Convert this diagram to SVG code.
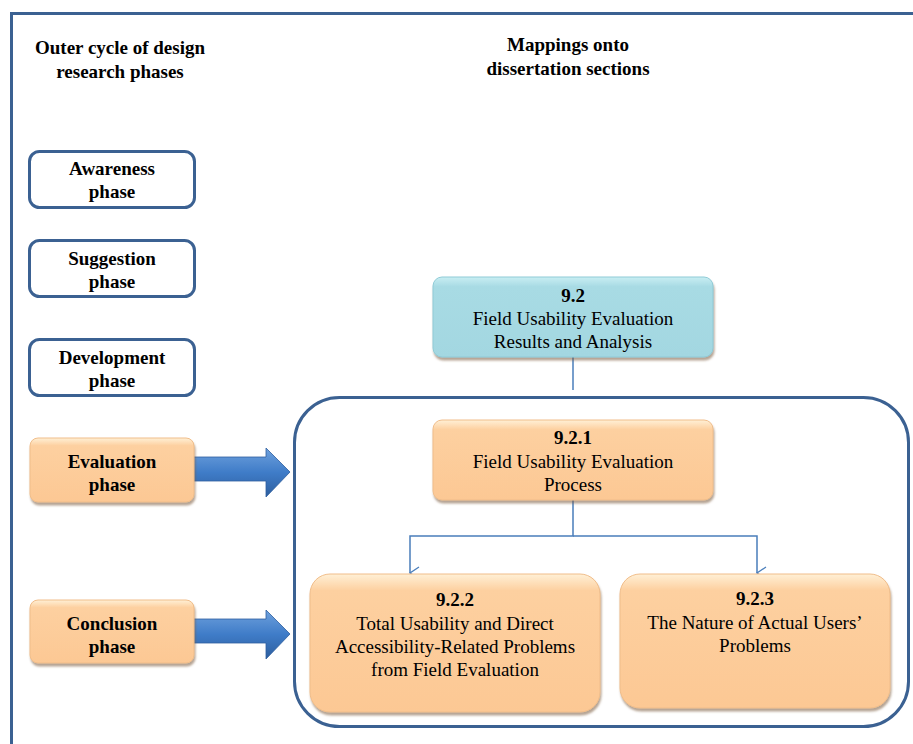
<svg xmlns="http://www.w3.org/2000/svg" width="913" height="744" viewBox="0 0 913 744">
<defs>
<style>
.t{font-family:"Liberation Serif","Times New Roman",serif;font-size:19px;fill:#000;text-anchor:middle}
.b{font-weight:bold}
.phase{fill:#fff;stroke:#3b6192;stroke-width:3}
.org{fill:url(#og);stroke:#f0bd8a;stroke-width:1}
.conn{fill:none;stroke:#4a7ebb;stroke-width:1.5}
</style>
<linearGradient id="og" x1="0" y1="0" x2="0" y2="1">
<stop offset="0" stop-color="#fff0d6"/>
<stop offset="0.12" stop-color="#fdd0a0"/>
<stop offset="1" stop-color="#fcc894"/>
</linearGradient>
<linearGradient id="bg" x1="0" y1="0" x2="0" y2="1">
<stop offset="0" stop-color="#c9eef3"/>
<stop offset="0.12" stop-color="#a8dbe4"/>
<stop offset="1" stop-color="#a3d7e1"/>
</linearGradient>
<linearGradient id="ag" x1="0" y1="0" x2="0" y2="1">
<stop offset="0" stop-color="#6fa1dd"/>
<stop offset="0.5" stop-color="#3f7cc8"/>
<stop offset="1" stop-color="#2d5e9e"/>
</linearGradient>
<filter id="sh" x="-10%" y="-10%" width="120%" height="130%">
<feDropShadow dx="1" dy="3" stdDeviation="1.2" flood-color="#7a5a3a" flood-opacity="0.55"/>
</filter>
<marker id="ar" markerWidth="14" markerHeight="14" refX="7" refY="12" orient="auto" markerUnits="userSpaceOnUse">
<path d="M1,3 L7,12 L13,3" fill="none" stroke="#4a7ebb" stroke-width="1.3"/>
</marker>
</defs>
<rect width="913" height="744" fill="#fff"/>
<path d="M11.5,760 V13.5 H920" fill="none" stroke="#3b6192" stroke-width="3"/>
<g id="header-left">
<text class="t b" x="120" y="54">Outer cycle of design</text>
<text class="t b" x="120" y="78">research phases</text>
</g>
<g id="header-right">
<text class="t b" x="568" y="51">Mappings onto</text>
<text class="t b" x="568" y="75">dissertation sections</text>
</g>
<g id="awareness">
<rect class="phase" x="29.5" y="151.5" width="165" height="56" rx="10"/>
<text class="t b" x="112" y="175">Awareness</text>
<text class="t b" x="112" y="198">phase</text>
</g>
<g id="suggestion">
<rect class="phase" x="29.5" y="240.5" width="165" height="56" rx="10"/>
<text class="t b" x="112" y="265">Suggestion</text>
<text class="t b" x="112" y="288">phase</text>
</g>
<g id="development">
<rect class="phase" x="29.5" y="339.5" width="165" height="56" rx="10"/>
<text class="t b" x="112" y="364">Development</text>
<text class="t b" x="112" y="387">phase</text>
</g>
<g id="container">
<rect x="294.5" y="397.5" width="614" height="329" rx="45" fill="none" stroke="#3b6192" stroke-width="3"/>
</g>
<g id="arrows">
<path d="M192,457 H266 V448 L290,472 L266,497 V481 H192 Z" fill="url(#ag)" stroke="#2d5e9e" stroke-width="0.8"/>
<path d="M192,619 H266 V610 L290,634 L266,659 V643 H192 Z" fill="url(#ag)" stroke="#2d5e9e" stroke-width="0.8"/>
</g>
<g id="evaluation">
<rect class="org" x="30" y="438" width="164" height="64" rx="8" filter="url(#sh)"/>
<text class="t b" x="112" y="468">Evaluation</text>
<text class="t b" x="112" y="491">phase</text>
</g>
<g id="conclusion">
<rect class="org" x="30" y="600" width="164" height="63" rx="8" filter="url(#sh)"/>
<text class="t b" x="112" y="630">Conclusion</text>
<text class="t b" x="112" y="653">phase</text>
</g>
<g id="connectors">
<line class="conn" x1="573" y1="357" x2="573" y2="390"/>
<path class="conn" d="M573,500 V536 H410 V573" marker-end="url(#ar)"/>
<path class="conn" d="M573,536 H757 V573" marker-end="url(#ar)"/>
</g>
<g id="s92">
<rect x="433" y="277" width="280" height="80" rx="9" fill="url(#bg)" stroke="#8fcbd6" filter="url(#sh)"/>
<text class="t b" x="573" y="302">9.2</text>
<text class="t" x="573" y="325">Field Usability Evaluation</text>
<text class="t" x="573" y="348">Results and Analysis</text>
</g>
<g id="s921">
<rect class="org" x="433" y="420" width="280" height="80" rx="9" filter="url(#sh)"/>
<text class="t b" x="573" y="444">9.2.1</text>
<text class="t" x="573" y="468">Field Usability Evaluation</text>
<text class="t" x="573" y="491">Process</text>
</g>
<g id="s922">
<rect class="org" x="310" y="574" width="290" height="138" rx="20" filter="url(#sh)"/>
<text class="t b" x="455" y="606">9.2.2</text>
<text class="t" x="455" y="630">Total Usability and Direct</text>
<text class="t" x="455" y="653">Accessibility-Related Problems</text>
<text class="t" x="455" y="676">from Field Evaluation</text>
</g>
<g id="s923">
<rect class="org" x="620" y="574" width="270" height="134" rx="20" filter="url(#sh)"/>
<text class="t b" x="755" y="605">9.2.3</text>
<text class="t" x="755" y="629">The Nature of Actual Users’</text>
<text class="t" x="755" y="652">Problems</text>
</g>
</svg>
